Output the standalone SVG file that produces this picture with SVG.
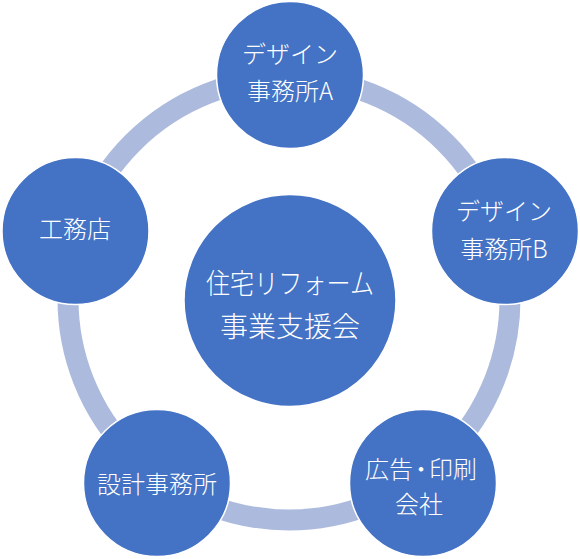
<svg xmlns="http://www.w3.org/2000/svg" width="580" height="559" viewBox="0 0 580 559">
<style>
.node{fill:#4472C4;stroke:#FFFFFF;stroke-width:1.5}
.ring{fill:none;stroke:#ACBADD;stroke-width:21}
text{font-family:"Noto Sans CJK JP","Noto Sans CJK SC",sans-serif;font-weight:300;fill:#FFFFFF;text-anchor:middle}
.s{font-size:24px}
.l{font-size:28px}
</style>
<rect width="580" height="559" fill="#FFFFFF"/>
<g id="connectors">
<circle class="ring" cx="289" cy="299" r="221"/>
</g>
<g id="center">
<circle class="node" cx="290" cy="300.5" r="106"/>
<text class="l" x="290" y="294" textLength="168" lengthAdjust="spacingAndGlyphs">住宅リフォーム</text>
<text class="l" x="290" y="337">事業支援会</text>
</g>
<g id="design-a">
<circle class="node" cx="290" cy="75" r="73.5"/>
<text class="s" x="290" y="63">デザイン</text>
<text class="s" x="290" y="100">事務所A</text>
</g>
<g id="design-b">
<circle class="node" cx="505" cy="231" r="73.5"/>
<text class="s" x="504" y="220">デザイン</text>
<text class="s" x="504" y="258">事務所B</text>
</g>
<g id="koumuten">
<circle class="node" cx="75.5" cy="231" r="73.5"/>
<text class="s" x="75" y="238">工務店</text>
</g>
<g id="sekkei">
<circle class="node" cx="157" cy="483" r="73.5"/>
<text class="s" x="157" y="493">設計事務所</text>
</g>
<g id="koukoku">
<circle class="node" cx="423" cy="483" r="73.5"/>
<text class="s" x="421" y="478" dx="0 0 -4 -4 0">広告・印刷</text>
<text class="s" x="419" y="513">会社</text>
</g>
</svg>
